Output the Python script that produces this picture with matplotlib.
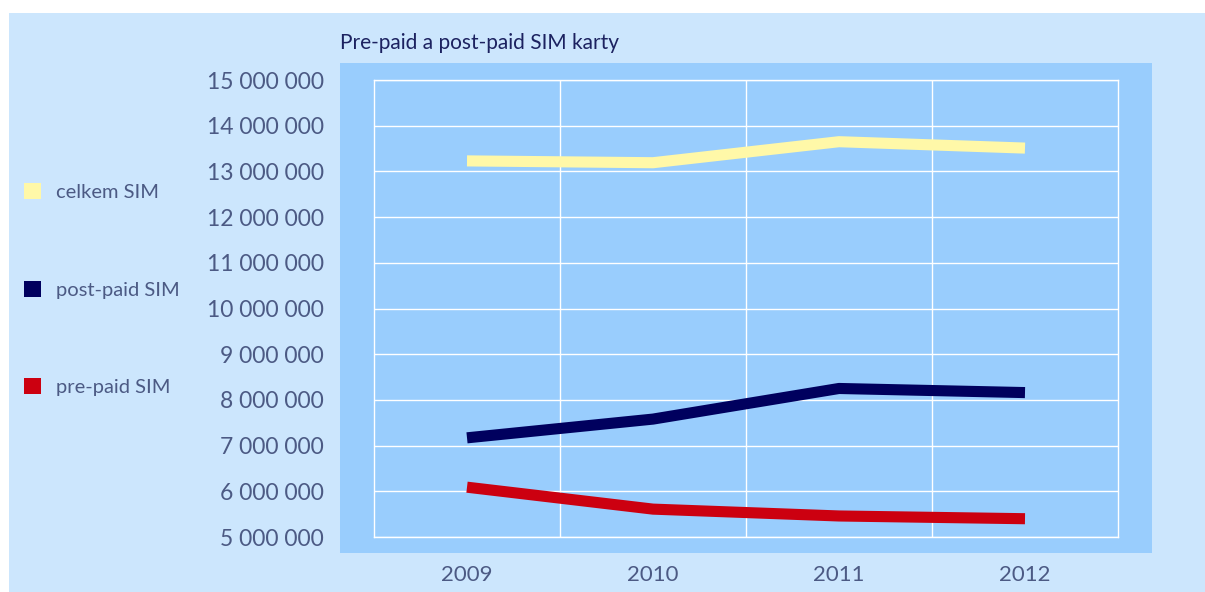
import matplotlib as mpl
import matplotlib.pyplot as plt
from matplotlib.patches import Rectangle, Patch
from matplotlib.ticker import FuncFormatter

# Pre-paid a post-paid SIM karty, 2009-2012

years = ['2009', '2010', '2011', '2012']
celkem = [13230000, 13190000, 13650000, 13510000]
postpaid = [7170000, 7580000, 8250000, 8160000]
prepaid = [6090000, 5610000, 5460000, 5400000]
y_ticks = [5000000 + i * 1000000 for i in range(11)]

bg_outer = '#cce6fd'
bg_panel = '#99cdfd'
txt = '#4c5a84'
col_celkem = '#fff8a8'
col_post = '#00005e'
col_pre = '#cc0010'

plt.rcParams['font.family'] = ['Lato', 'DejaVu Sans']

W, H = 1205, 592
fig = plt.figure(figsize=(W / 100, H / 100), dpi=100)
fig.patch.set_facecolor('white')

# light blue background and darker plot panel (pixel coords -> figure coords)
fig.patches.append(Rectangle((9 / W, 0), 1 - 9 / W, 1 - 13 / H, transform=fig.transFigure,
                             facecolor=bg_outer, edgecolor='none', zorder=-10))
fig.patches.append(Rectangle((340 / W, 1 - 553 / H), (1152 - 340) / W, (553 - 63) / H,
                             transform=fig.transFigure, facecolor=bg_panel, edgecolor='none', zorder=-9))

ax = fig.add_axes([374 / W, 1 - 537 / H, (1118 - 374) / W, (537 - 80) / H])
ax.set_facecolor(bg_panel)
ax.patch.set_alpha(0)

x = list(range(len(years)))
lw = 8
ax.plot(x, celkem, color=col_celkem, lw=lw, solid_capstyle='butt', solid_joinstyle='round', label='celkem SIM')
ax.plot(x, postpaid, color=col_post, lw=lw, solid_capstyle='butt', solid_joinstyle='round', label='post-paid SIM')
ax.plot(x, prepaid, color=col_pre, lw=lw, solid_capstyle='butt', solid_joinstyle='round', label='pre-paid SIM')

ax.set_xlim(-0.5, len(years) - 0.5)
ax.set_ylim(5000000, 15000000)
ax.set_xticks(x)
ax.set_xticklabels(years)
ax.set_yticks(y_ticks)
ax.yaxis.set_major_formatter(FuncFormatter(lambda v, p: '{:,.0f}'.format(v).replace(',', ' ')))

ax.grid(False)
for v in y_ticks:
    ax.axhline(v, color='white', lw=1.0, zorder=0)
for v in [i + 0.5 for i in range(len(years) - 1)]:
    ax.axvline(v, color='white', lw=1.0, zorder=0)
for s in ax.spines.values():
    s.set_color('white')
    s.set_linewidth(1.0)

ax.tick_params(axis='both', which='both', length=0, labelcolor=txt)
ax.tick_params(axis='y', labelsize=16.5, pad=36)
ax.tick_params(axis='x', labelsize=16, pad=20)

fig.text(340 / W, 1 - 43 / H, 'Pre-paid a post-paid SIM karty', fontsize=15,
         color='#1c2260', ha='left', va='center')

handles = [Patch(facecolor=col_celkem, edgecolor='none', label='celkem SIM'),
           Patch(facecolor=col_post, edgecolor='none', label='post-paid SIM'),
           Patch(facecolor=col_pre, edgecolor='none', label='pre-paid SIM')]
leg = fig.legend(handles=handles, loc='upper left', bbox_to_anchor=(6 / W, 1 - 165 / H),
                 frameon=False, labelspacing=3.95, handlelength=0.85,
                 handleheight=0.85, handletextpad=0.75, labelcolor=txt,
                 prop={'size': 14.5})

fig.savefig('out.png', dpi=100, facecolor=fig.get_facecolor())
